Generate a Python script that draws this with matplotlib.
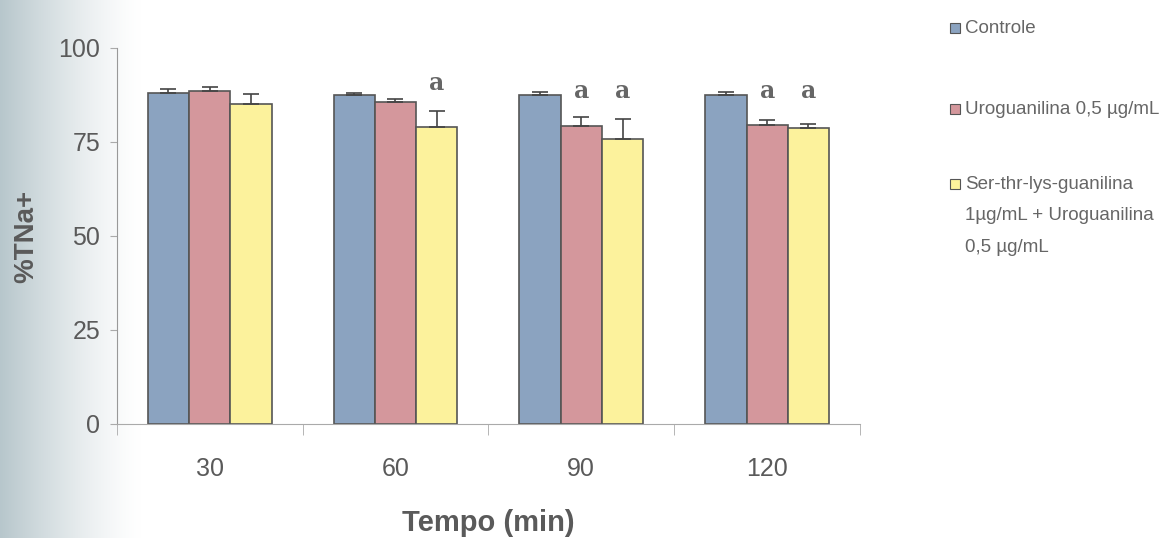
import numpy as np
import matplotlib
matplotlib.use("Agg")
import matplotlib.pyplot as plt
from matplotlib.patches import Rectangle

categories = ["30", "60", "90", "120"]
series_names = ["Controle", "Uroguanilina 0,5 µg/mL",
                "Ser-thr-lys-guanilina\n1µg/mL + Uroguanilina\n0,5 µg/mL"]
controle = [88.0, 87.5, 87.5, 87.5]
controle_err = [1.0, 0.5, 0.9, 0.9]
urog = [88.5, 85.5, 79.3, 79.4]
urog_err = [1.0, 1.0, 2.4, 1.5]
ser = [85.0, 79.0, 75.7, 78.7]
ser_err = [2.8, 4.2, 5.5, 1.1]
# significance marks: (category index, series index)
sig_marks = [(1, 2), (2, 1), (2, 2), (3, 1), (3, 2)]

colors = ["#8ba3c0", "#d4979c", "#fcf29c"]
values = [controle, urog, ser]
errors = [controle_err, urog_err, ser_err]

plt.rcParams['font.family'] = ['Liberation Sans', 'DejaVu Sans']
text_color = "#5a5a5a"

fig = plt.figure(figsize=(11.67, 5.38), dpi=100)

# left gradient background
bg = fig.add_axes([0, 0, 1, 1], zorder=-10)
grad = np.linspace(0, 1, 600)
t = np.clip(grad / 0.12, 0, 1)
alpha = (1 - t) ** 1.3
img = np.ones((1, 600, 3))
base = np.array([0.72, 0.78, 0.80])
for i in range(3):
    img[0, :, i] = 1 - alpha * (1 - base[i])
bg.imshow(img, aspect='auto', extent=[0, 1, 0, 1], interpolation='bilinear')
bg.set_xlim(0, 1)
bg.set_ylim(0, 1)
bg.axis('off')

ax = fig.add_axes([0.100, 0.212, 0.637, 0.699])
ax.patch.set_alpha(0)
x = np.arange(len(categories))
w = 0.222
for i in range(3):
    pos = x + (i - 1) * w
    ax.bar(pos, values[i], width=w, color=colors[i], edgecolor="#555555",
           linewidth=1.2, zorder=2)
    ax.errorbar(pos, values[i], yerr=[np.zeros(4), errors[i]], fmt='none',
                ecolor="#444444", elinewidth=1.2, capsize=6, capthick=1.2, zorder=3)

for ci, si in sig_marks:
    ypos = 88.8 if ci == 1 else 86.8
    ax.text(x[ci] + (si - 1) * w, ypos, "a", ha='center', va='baseline',
            fontsize=17, fontweight='bold', family='DejaVu Serif', color="#666666")

ax.set_xlim(-0.5, 3.5)
ax.set_ylim(0, 100)
ax.set_yticks([0, 25, 50, 75, 100])
ax.set_xticks(x)
ax.set_xticklabels(categories)
ax.set_xticks(np.arange(-0.5, 4.0, 1.0), minor=True)
ax.tick_params(axis='x', which='major', length=0, pad=24, labelsize=18, labelcolor=text_color)
ax.tick_params(axis='x', which='minor', length=8, color="#aaaaaa", direction='out')
ax.tick_params(axis='y', length=5, color="#aaaaaa", labelsize=18, labelcolor=text_color, pad=7)
for s in ['top', 'right']:
    ax.spines[s].set_visible(False)
ax.spines['left'].set_color("#999999")
ax.spines['bottom'].set_color("#aaaaaa")
ax.spines['left'].set_linewidth(0.8)
ax.spines['bottom'].set_linewidth(0.8)

ax.set_xlabel("Tempo (min)", fontsize=21, fontweight='bold', color=text_color, labelpad=20)
fig.text(26 / 1167, 1 - 236 / 538, "%TNa+", rotation=90, ha='center', va='center',
         fontsize=20, fontweight='bold', color=text_color)

# legend drawn manually
leg_y = [28, 109, 184]
for i in range(3):
    yf = 1 - leg_y[i] / 538
    sq = Rectangle((950 / 1167, yf - 5 / 538), 10 / 1167, 10 / 538,
                   transform=fig.transFigure, facecolor=colors[i],
                   edgecolor="#555555", linewidth=0.8)
    fig.patches.append(sq)
    fig.text(965 / 1167, yf + 8 / 538, series_names[i], ha='left', va='top',
             fontsize=13.5, color="#666666", linespacing=2.1)

fig.savefig("out.png", dpi=100)
